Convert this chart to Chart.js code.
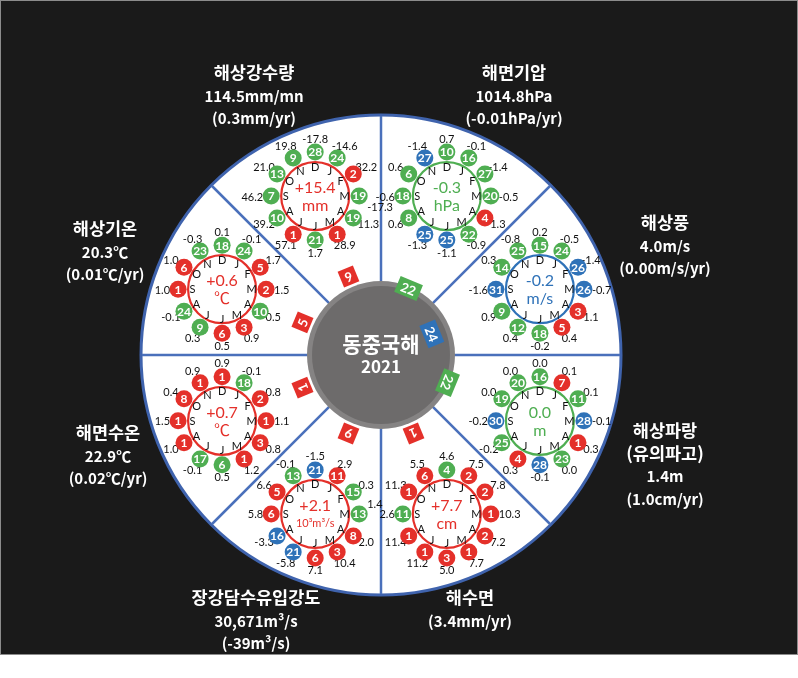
<!DOCTYPE html>
<html><head><meta charset="utf-8">
<script src="https://cdn.jsdelivr.net/npm/chart.js@4.4.1/dist/chart.umd.min.js"></script>
<style>
html,body{margin:0;padding:0;background:#fff;}
#wrap{position:relative;width:798px;height:678px;overflow:hidden;}
#bg{position:absolute;left:0;top:0;width:796px;height:653px;background:#1a1a1a;border:1px solid #8c8c8c;}
#c{position:absolute;left:0;top:0;}
.t{position:absolute;color:#fff;font-family:'Noto Sans CJK KR','Noto Sans',sans-serif;font-weight:700;white-space:nowrap;line-height:1;transform:translate(-50%,-50%);}
</style></head>
<body>
<div id="wrap"><div id="bg"></div><canvas id="c" width="798" height="678"></canvas></div>
<script>
// ---------- DATA ----------
const MONTHS = ['J','F','M','A','M','J','J','A','S','O','N','D'];
// class codes: H = high (red), N = normal (green), L = low (blue)
const precipRank  = [24,2,19,19,1,21,1,10,7,13,9,28];
const precipClass = ['N','H','N','N','H','N','H','N','N','N','N','N'];
const precipAnom  = [-14.6,32.2,-17.3,-11.3,28.9,1.7,57.1,39.2,46.2,21.0,19.8,-17.8];

const slpRank  = [16,27,20,4,22,25,25,8,18,6,27,10];
const slpClass = ['N','N','N','H','N','L','L','N','N','N','L','N'];
const slpAnom  = [-0.1,-1.4,-0.5,1.3,-0.9,-1.1,-1.3,0.6,-0.6,0.6,-1.4,0.7];

const windRank  = [24,26,26,3,5,18,12,9,31,14,25,15];
const windClass = ['N','L','L','H','H','N','N','N','L','N','N','N'];
const windAnom  = [-0.5,-1.4,-0.7,1.1,0.4,-0.2,0.4,0.9,-1.6,0.3,-0.8,0.2];

const waveRank  = [7,11,28,1,23,28,4,25,30,19,20,16];
const waveClass = ['H','N','L','H','N','L','H','N','L','N','N','N'];
const waveAnom  = [0.1,0.1,-0.1,0.3,0.0,-0.1,0.3,-0.2,-0.2,0.0,0.0,0.0];

const slRank  = [2,2,1,2,1,3,1,1,11,1,6,4];
const slClass = ['H','H','H','H','H','H','H','H','N','H','H','N'];
const slAnom  = [7.5,7.8,10.3,7.2,7.7,5.0,11.2,11.4,2.6,11.3,5.5,4.6];

const cdwRank  = [11,15,13,8,3,6,21,16,6,5,13,21];
const cdwClass = ['H','N','N','H','H','H','L','L','H','H','N','L'];
const cdwAnom  = [2.9,0.3,1.4,2.0,10.4,7.1,-5.8,-3.3,5.8,6.6,-0.1,-1.5];

const sstRank  = [18,2,1,3,1,6,17,1,1,8,1,1];
const sstClass = ['N','H','H','H','H','N','N','H','H','H','H','H'];
const sstAnom  = [-0.1,0.8,1.1,0.8,1.2,0.5,-0.1,1.0,1.5,0.4,0.9,0.9];

const satRank  = [24,5,2,10,3,6,9,24,1,6,23,18];
const satClass = ['N','H','H','N','H','H','N','N','H','H','N','N'];
const satAnom  = [-0.1,1.7,1.5,0.5,0.9,0.5,0.3,-0.1,1.0,1.0,-0.3,0.1];

// annual values, clockwise from top-left sector
const annualAnom  = [15.4,-0.3,-0.2,0.0,7.7,2.1,0.7,0.6];
const annualUnit  = ['mm','hPa','m/s','m','cm','10³m³/s','℃','℃'];
const annualClass = ['H','N','L','N','H','H','H','H'];
const annualRank  = [9,22,24,22,1,9,1,5];

const titleLines = [
  ['해상강수량','114.5mm/mn','(0.3mm/yr)'],
  ['해면기압','1014.8hPa','(-0.01hPa/yr)'],
  ['해상풍','4.0m/s','(0.00m/s/yr)'],
  ['해상파랑','(유의파고)','1.4m','(1.0cm/yr)'],
  ['해수면','(3.4mm/yr)'],
  ['장강담수유입강도','30,671m³/s','(-39m³/s)'],
  ['해면수온','22.9℃','(0.02℃/yr)'],
  ['해상기온','20.3℃','(0.01℃/yr)']
];
const centerTitle = ['동중국해','2021'];

// ---------- LAYOUT / STYLE ----------
const COLORS = {H:'#e4302a', N:'#4fae52', L:'#2f72b8'};
const TAG_DIST = {H:85, N:72, L:55};
const G = {R:240, ringDist:172, ringR:34, bubbleDist:44, bubbleR:8.5, letterDist:29.5,
           valRX:59, valRY:57, sideGap:52, hubR:74};
const titlePos = [[254,72],[514,72],[665,222],[665,430],[470,597],[256,597],[108,432],[105,228]];
const LINE = 22.5;
const deg = Math.PI/180;
const sectorAngle = i => (-112.5 + 45*i)*deg;
const monthAngle = m => (-60 + 30*m)*deg;

const SECTORS = [
  {rank:precipRank, cls:precipClass, anom:precipAnom},
  {rank:slpRank, cls:slpClass, anom:slpAnom},
  {rank:windRank, cls:windClass, anom:windAnom},
  {rank:waveRank, cls:waveClass, anom:waveAnom},
  {rank:slRank, cls:slClass, anom:slAnom},
  {rank:cdwRank, cls:cdwClass, anom:cdwAnom},
  {rank:sstRank, cls:sstClass, anom:sstAnom},
  {rank:satRank, cls:satClass, anom:satAnom}
];
const ringCenter = i => ({x:G.ringDist*Math.cos(sectorAngle(i)), y:G.ringDist*Math.sin(sectorAngle(i))});

const datasets = SECTORS.map((s,si)=>{
  const c = ringCenter(si);
  return {
    data: s.rank.map((r,mi)=>({x:c.x+G.bubbleDist*Math.cos(monthAngle(mi)), y:c.y+G.bubbleDist*Math.sin(monthAngle(mi)), rank:r})),
    backgroundColor: s.cls.map(k=>COLORS[k]),
    borderWidth:0, pointRadius:G.bubbleR, pointHoverRadius:G.bubbleR, clip:false
  };
});

const NUMF = "'Lato','Noto Sans CJK KR',sans-serif";
const fmtSigned = v => (v>0?'+':'') + v.toFixed(1);

const infographic = {
  id:'infographic',
  beforeDatasetsDraw(chart){
    const ctx = chart.ctx, xs = chart.scales.x, ys = chart.scales.y;
    const X = v=>xs.getPixelForValue(v), Y = v=>ys.getPixelForValue(v);
    const k = (X(100)-X(0))/100;
    const ox = X(0), oy = Y(0);
    ctx.save();
    // big circle
    ctx.beginPath(); ctx.arc(ox,oy,G.R*k,0,2*Math.PI);
    ctx.fillStyle='#ffffff'; ctx.fill();
    ctx.lineWidth=3; ctx.strokeStyle='#3f63ad'; ctx.stroke();
    // dividers
    ctx.strokeStyle='#4a70bb'; ctx.lineWidth=2.5;
    for(let i=0;i<8;i++){
      const a=i*45*deg;
      ctx.beginPath();
      ctx.moveTo(X(60*Math.cos(a)),Y(60*Math.sin(a)));
      ctx.lineTo(X((G.R-1)*Math.cos(a)),Y((G.R-1)*Math.sin(a)));
      ctx.stroke();
    }
    // hub
    ctx.beginPath(); ctx.arc(ox,oy,G.hubR*k,0,2*Math.PI); ctx.fillStyle='#858383'; ctx.fill();
    ctx.beginPath(); ctx.arc(ox,oy,(G.hubR-5)*k,0,2*Math.PI); ctx.fillStyle='#6d6b6b'; ctx.fill();
    ctx.fillStyle='#ffffff'; ctx.textAlign='center'; ctx.textBaseline='middle';
    ctx.font="bold 21px 'Noto Sans CJK KR',sans-serif";
    ctx.fillText(centerTitle[0],ox,oy-11);
    ctx.font="bold 17px 'Noto Sans CJK KR',sans-serif";
    ctx.fillText(centerTitle[1],ox,oy+12);
    // tags (annual rank)
    annualRank.forEach((r,i)=>{
      const a=sectorAngle(i), d=TAG_DIST[annualClass[i]];
      ctx.save();
      ctx.translate(X(d*Math.cos(a)),Y(d*Math.sin(a)));
      ctx.rotate(a+Math.PI/2);
      ctx.font="bold 13px "+NUMF;
      const t=String(r), w=ctx.measureText(t).width+9, h=17;
      ctx.fillStyle=COLORS[annualClass[i]];
      ctx.fillRect(-w/2,-h/2,w,h);
      ctx.fillStyle='#fff'; ctx.textAlign='center'; ctx.textBaseline='middle';
      ctx.fillText(t,0,1);
      ctx.restore();
    });
    // monthly anomaly labels: layout with simple collision avoidance
    ctx.font="11px "+NUMF;
    const labels=[];
    SECTORS.forEach((s,si)=>{
      const c=ringCenter(si), cx=X(c.x), cy=Y(c.y);
      s.anom.forEach((v,mi)=>{
        const b=monthAngle(mi), cb=Math.cos(b), sb=Math.sin(b);
        const t=v.toFixed(1), w=ctx.measureText(t).width;
        let L;
        if(Math.abs(cb)>0.95){
          const x=cx+Math.sign(cb)*G.sideGap*k;
          L={t,x,y:cy+1,align:cb>0?'left':'right',x0:cb>0?x:x-w,x1:cb>0?x+w:x,side:true,cy};
        } else {
          const x=cx+G.valRX*k*cb;
          L={t,x,y:cy+G.valRY*k*sb,align:'center',x0:x-w/2,x1:x+w/2,side:false,cy};
        }
        L.si=si; labels.push(L);
      });
    });
    labels.forEach(a=>{
      if(!a.side||a.align!=='left') return;
      labels.forEach(b=>{
        if(b===a||b.si===a.si||!b.side) return;
        if(a.x1>b.x0-1 && a.x0<b.x1 && Math.abs(a.y-b.y)<11){
          a.y += (a.cy<oy?1:-1)*10;
        }
      });
    });
    ctx.fillStyle='#111'; ctx.textBaseline='middle';
    labels.forEach(L=>{ctx.textAlign=L.align; ctx.fillText(L.t,L.x,L.y);});
    // rings
    SECTORS.forEach((s,si)=>{
      const c=ringCenter(si), cx=X(c.x), cy=Y(c.y), col=COLORS[annualClass[si]];
      ctx.beginPath(); ctx.arc(cx,cy,G.ringR*k,0,2*Math.PI);
      ctx.lineWidth=2.2; ctx.strokeStyle=col; ctx.stroke();
      ctx.fillStyle='#111'; ctx.textAlign='center'; ctx.textBaseline='middle';
      ctx.font="11px "+NUMF;
      MONTHS.forEach((m,mi)=>{
        const b=monthAngle(mi);
        ctx.fillText(m, cx+G.letterDist*k*Math.cos(b), cy+G.letterDist*k*Math.sin(b)+0.5);
      });
      ctx.fillStyle=col;
      ctx.font="16px "+NUMF;
      ctx.fillText(fmtSigned(annualAnom[si]), cx, cy-8);
      const u=annualUnit[si];
      ctx.font=(u.length>4?"11px ":"16px ")+NUMF;
      ctx.fillText(u, cx, cy+10);
    });
    ctx.restore();
  },
  afterDatasetsDraw(chart){
    const ctx=chart.ctx;
    ctx.save();
    ctx.fillStyle='#fff'; ctx.textAlign='center'; ctx.textBaseline='middle';
    ctx.font="bold 12px "+NUMF;
    chart.data.datasets.forEach((ds,di)=>{
      chart.getDatasetMeta(di).data.forEach((el,i)=>{
        ctx.fillText(String(ds.data[i].rank), el.x, el.y+0.5);
      });
    });
    ctx.restore();
  }
};

new Chart(document.getElementById('c'),{
  type:'scatter',
  data:{datasets},
  options:{
    responsive:false, animation:false, events:[],
    layout:{padding:{left:141,right:177,top:115,bottom:83}},
    scales:{
      x:{type:'linear',min:-G.R,max:G.R,display:false},
      y:{type:'linear',min:-G.R,max:G.R,reverse:true,display:false}
    },
    plugins:{legend:{display:false},tooltip:{enabled:false},title:{display:false}}
  },
  plugins:[infographic]
});

// titles as real text
const wrap=document.getElementById('wrap');
titleLines.forEach((lines,i)=>{
  const [x,y]=titlePos[i];
  lines.forEach((txt,j)=>{
    const d=document.createElement('div');
    d.className='t';
    d.textContent=txt;
    d.style.left=x+'px'; d.style.top=(y+j*LINE)+'px';
    d.style.fontSize=(/[\uAC00-\uD7A3]/.test(txt)?17.5:15)+'px';
    wrap.appendChild(d);
  });
});
</script>
</body></html>
